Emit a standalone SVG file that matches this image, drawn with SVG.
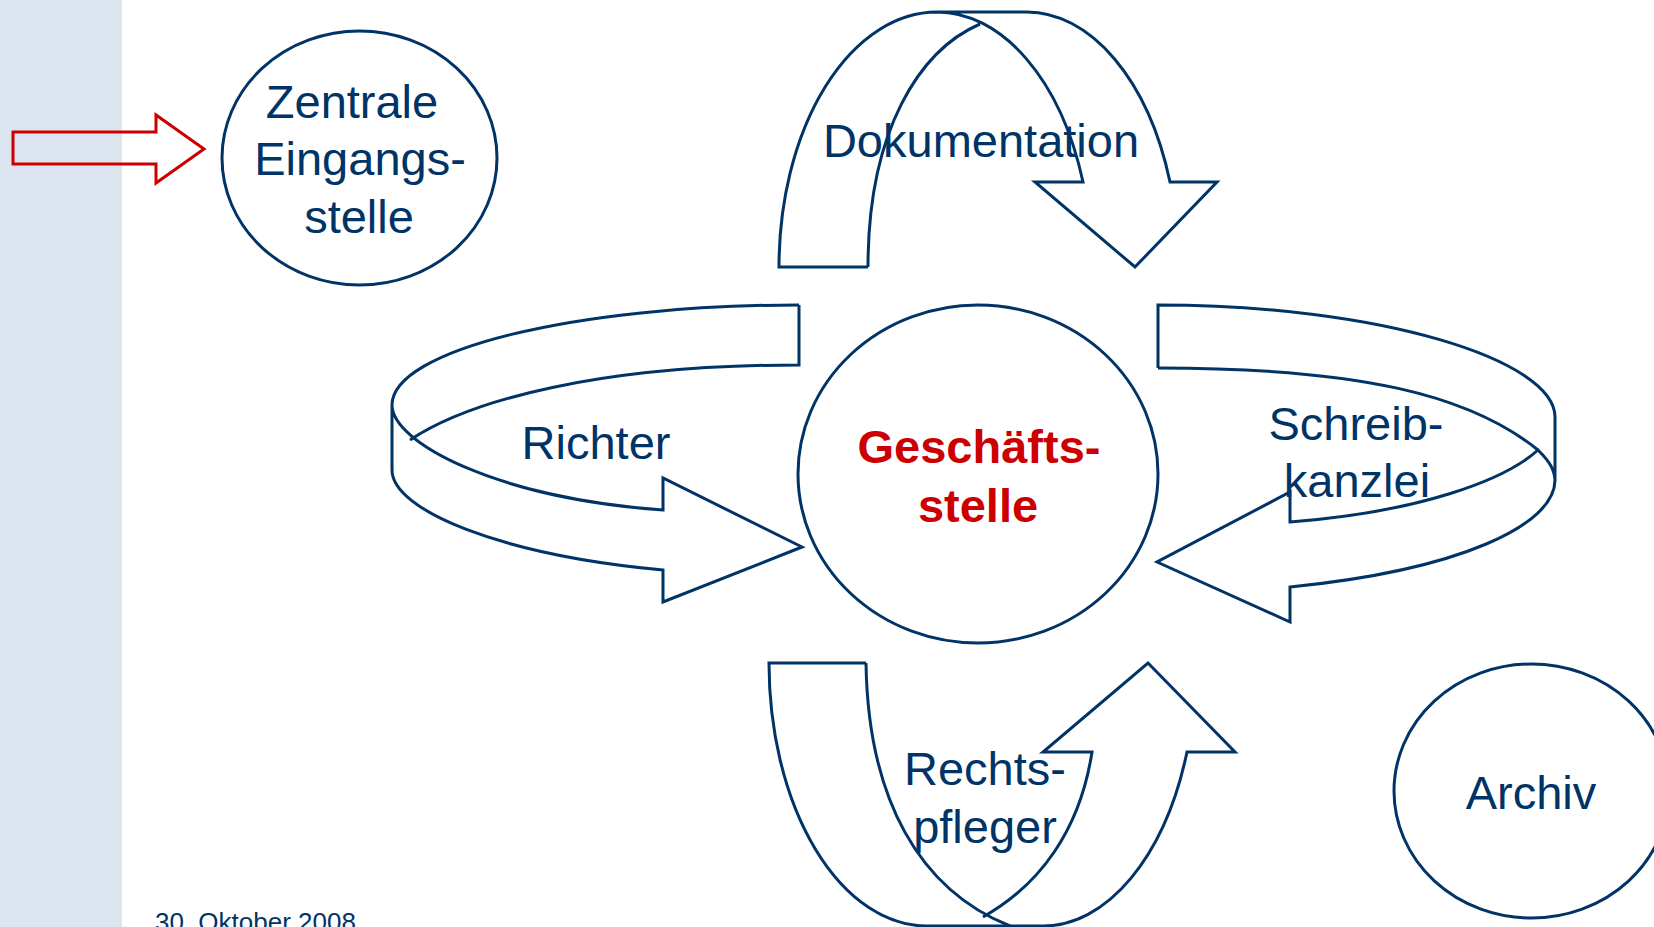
<svg xmlns="http://www.w3.org/2000/svg" width="1654" height="927" viewBox="0 0 1654 927">
<style>
.ln{fill:none;stroke:#003366;stroke-width:3;stroke-linejoin:miter}
.nd{fill:#ffffff;stroke:#003366;stroke-width:3}
.lb{font-family:"Liberation Sans",Arial,sans-serif;font-size:47px;fill:#003366;text-anchor:middle}
.hl{font-family:"Liberation Sans",Arial,sans-serif;font-size:47px;font-weight:bold;fill:#cc0000;text-anchor:middle}
</style>
<rect x="0" y="0" width="1654" height="927" fill="#ffffff"/>
<rect id="sidebar" x="0" y="0" width="122" height="927" fill="#dce6f0"/>
<g id="connectors">
<path id="entry-arrow" d="M13,132 L156,132 L156,115 L204,149 L156,183 L156,164 L13,164 Z" fill="none" stroke="#cc0000" stroke-width="3"/>
</g>
<g id="zentrale">
<ellipse class="nd" cx="359.5" cy="158" rx="137.5" ry="127"/>
<text class="lb" x="352" y="118">Zentrale</text>
<text class="lb" x="360" y="175">Eingangs-</text>
<text class="lb" x="359" y="233">stelle</text>
</g>
<g id="dokumentation">
<path class="ln" d="M868,267 L779,267 A158,255 0 0 1 937,12 L1027,12 A152,255 0 0 1 1170,182 L1217,182 L1135,267 L1035,182 L1083,182 A155,255 0 0 0 937,12"/>
<path class="ln" d="M868,267 C868,130 920,50 980,24"/>
<text class="lb" x="981" y="157">Dokumentation</text>
</g>
<g id="richter">
<path class="ln" d="M799,305 C575,305 392,350 392,405 C392,442 495,498 663,510 L663,478 L802,547 L663,602 L663,570 C500,555 392,510 392,470 L392,405"/>
<path class="ln" d="M799,305 L799,365 C600,365 470,400 410,440"/>
<text class="lb" x="596" y="459">Richter</text>
</g>
<g id="geschaeftsstelle">
<ellipse class="nd" cx="978" cy="474" rx="180" ry="169"/>
<text class="hl" x="979" y="463">Geschäfts-</text>
<text class="hl" x="978" y="522">stelle</text>
</g>
<g id="schreibkanzlei">
<path class="ln" d="M1158,368 L1158,305 C1380,305 1555,360 1555,417 L1555,480 C1555,525 1460,570 1290,587 L1290,622 L1157,562 L1290,492 L1290,522 C1420,512 1505,480 1538,450 C1550,462 1555,470 1555,482"/>
<path class="ln" d="M1158,368 C1360,368 1470,395 1538,450"/>
<text class="lb" x="1356" y="440">Schreib-</text>
<text class="lb" x="1357" y="497">kanzlei</text>
</g>
<g id="rechtspfleger">
<path class="ln" d="M866,663 L769,663 A158,263 0 0 0 927,926 L1043,926 A153,263 0 0 0 1187,752 L1235,752 L1148,663 L1043,752 L1092,752 C1080,830 1040,885 983,917"/>
<path class="ln" d="M866,663 C868,800 920,890 1010,926"/>
<text class="lb" x="985" y="785">Rechts-</text>
<text class="lb" x="985" y="843">pfleger</text>
</g>
<g id="archiv">
<ellipse class="nd" cx="1531.5" cy="791" rx="137.5" ry="127"/>
<text class="lb" x="1531" y="809">Archiv</text>
</g>
<text id="footer" x="155" y="931" font-family="'Liberation Sans',Arial,sans-serif" font-size="26" fill="#003366">30. Oktober 2008</text>
</svg>
